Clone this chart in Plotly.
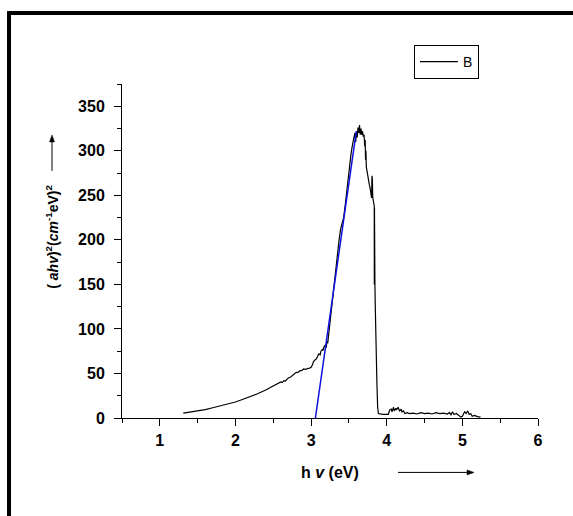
import plotly.graph_objects as go

# Measured absorption curve, (alpha*h*nu)^2 against photon energy
energy_ev = [
    1.31, 1.40, 1.50, 1.60, 1.70, 1.80, 1.90, 2.00, 2.10, 2.20, 2.30, 2.40,
    2.50, 2.55, 2.60, 2.62, 2.64, 2.66, 2.70, 2.73, 2.75, 2.78, 2.80, 2.83,
    2.85, 2.88, 2.90, 2.93, 2.95, 2.98, 3.00, 3.02, 3.03, 3.05, 3.07, 3.09,
    3.10, 3.12, 3.13, 3.15, 3.16, 3.17, 3.19, 3.20, 3.21, 3.22, 3.23, 3.25,
    3.27, 3.29, 3.31, 3.33, 3.35, 3.37, 3.39, 3.41, 3.43, 3.45, 3.47, 3.49,
    3.51, 3.53, 3.55, 3.57, 3.58, 3.59, 3.60, 3.61, 3.62, 3.63, 3.64, 3.65,
    3.66, 3.67, 3.68, 3.69, 3.70, 3.71, 3.715, 3.72, 3.725, 3.73, 3.74, 3.75,
    3.76, 3.77, 3.78, 3.79, 3.80, 3.805, 3.81, 3.815, 3.82, 3.83, 3.835,
    3.836, 3.838, 3.84, 3.842, 3.844, 3.85, 3.86, 3.87, 3.88, 3.89, 3.95,
    4.00, 4.02, 4.04, 4.06, 4.07, 4.09, 4.10, 4.12, 4.13, 4.15, 4.17, 4.19,
    4.20, 4.22, 4.24, 4.27, 4.30, 4.35, 4.40, 4.45, 4.50, 4.55, 4.60, 4.65,
    4.70, 4.75, 4.80, 4.83, 4.85, 4.87, 4.89, 4.92, 4.95, 4.98, 5.00, 5.03,
    5.05, 5.07, 5.09, 5.11, 5.13, 5.16, 5.20, 5.24,
]
ahv_sq = [
    5.5, 6.5, 8.0, 9.5, 11.5, 13.5, 15.5, 18.0, 21.0, 24.0, 27.5, 31.5,
    36.0, 38.0, 40.5, 40.0, 42.0, 41.5, 45.0, 46.0, 47.5, 49.0, 51.0, 51.5,
    53.0, 53.5, 55.0, 54.5, 55.5, 56.0, 57.0, 60.0, 63.0, 65.0, 66.5, 70.0,
    72.0, 71.0, 75.0, 77.0, 76.0, 80.0, 82.0, 79.0, 86.0, 84.0, 92.0, 105.0,
    122.0, 140.0, 158.0, 172.0, 190.0, 200.0, 212.0, 218.0, 225.0, 238.0, 254.0, 268.0,
    282.0, 298.0, 308.0, 316.0, 320.0, 310.0, 322.0, 315.0, 326.0, 320.0, 329.0, 318.0,
    325.0, 318.0, 322.0, 316.0, 318.0, 305.0, 312.0, 290.0, 300.0, 282.0, 276.0, 272.0,
    268.0, 262.0, 258.0, 250.0, 247.0, 272.0, 268.0, 248.0, 244.0, 242.0, 238.0,
    150.0, 236.0, 152.0, 230.0, 148.0, 120.0, 65.0, 40.0, 12.0, 5.0, 4.0,
    4.5, 4.0, 9.0, 10.0, 7.0, 12.0, 8.0, 11.0, 9.0, 12.0, 8.0, 10.0,
    7.0, 8.0, 5.0, 6.0, 5.0, 5.5, 4.5, 6.0, 5.0, 5.5, 4.5, 6.0,
    5.0, 5.5, 4.5, 6.0, 3.5, 7.0, 4.0, 5.0, 3.0, 1.0, 2.0, 7.0,
    5.0, 8.0, 4.0, 5.0, 2.0, 3.0, 1.5, 1.0,
]

# Linear fit of the absorption edge (intercept gives the band gap)
fit_x = [3.057, 3.598]
fit_y = [0.0, 322.0]

x_ticks = [1, 2, 3, 4, 5, 6]
y_ticks = [0, 50, 100, 150, 200, 250, 300, 350]

W, H = 573, 516
L, R, T, B = 122, 35, 84, 97.5
pw, ph = W - L - R, H - T - B


def px(x):
    return (x - L) / pw


def py(y):
    return (H - B - y) / ph


font_family = "Liberation Sans, Arial, sans-serif"

fig = go.Figure()
fig.add_trace(go.Scatter(
    x=energy_ev, y=ahv_sq, mode="lines", name="B",
    line=dict(color="black", width=1.2),
))
fig.add_trace(go.Scatter(
    x=fit_x, y=fit_y, mode="lines", showlegend=False,
    line=dict(color="#1010e0", width=1.5),
))

axis_common = dict(
    showline=True, linecolor="black", linewidth=1,
    ticks="outside", ticklen=7, tickwidth=1, tickcolor="black",
    showgrid=False, zeroline=False,
    tickfont=dict(family=font_family, size=16, color="black", weight="bold"),
)

fig.update_xaxes(
    range=[0.5, 6], tickvals=x_ticks,
    minor=dict(dtick=0.5, tick0=0.5, ticklen=4, ticks="outside", tickcolor="black"),
    ticklabelstandoff=1,
    **axis_common,
)
fig.update_yaxes(
    range=[0, 375], tickvals=y_ticks,
    minor=dict(dtick=25, tick0=0, ticklen=4, ticks="outside", tickcolor="black"),
    ticklabelstandoff=6,
    **axis_common,
)

annotations = [
    dict(
        x=px(330), y=py(473), xref="paper", yref="paper",
        text="h<i> v</i> (eV)", showarrow=False,
        font=dict(family=font_family, size=16, color="black", weight="bold"),
        xanchor="center", yanchor="middle",
    ),
    dict(
        x=px(52), y=py(237), xref="paper", yref="paper", textangle=-90,
        text="( <i>ahv</i>)<sup>2</sup>(<i>cm</i><sup>-1</sup>eV)<sup>2</sup>",
        showarrow=False, font=dict(family=font_family, size=14, color="black", weight="bold"),
        xanchor="center", yanchor="middle",
    ),
]


def arrow_shapes(x0, y0, x1, y1, head=7, half=2.5):
    # shaft plus a filled triangular head, given in pixel positions
    dx, dy = x1 - x0, y1 - y0
    n = (dx * dx + dy * dy) ** 0.5
    ux, uy = dx / n, dy / n
    bx, by = x1 - ux * head, y1 - uy * head
    nx, ny = -uy * half, ux * half
    shaft = dict(type="line", xref="paper", yref="paper",
                 x0=px(x0), y0=py(y0), x1=px(bx), y1=py(by),
                 line=dict(color="black", width=1))
    tip = dict(type="path", xref="paper", yref="paper",
               path=(f"M{px(x1)},{py(y1)} L{px(bx + nx)},{py(by + ny)} "
                     f"L{px(bx - nx)},{py(by - ny)} Z"),
               fillcolor="black", line=dict(color="black", width=0.5))
    return [shaft, tip]


shapes = [
    # outer frame around the figure
    dict(
        type="rect", xref="paper", yref="paper",
        x0=px(9), y0=py(13), x1=px(620), y1=py(560),
        line=dict(color="black", width=4), fillcolor="rgba(0,0,0,0)",
    ),
]
shapes += arrow_shapes(398, 473, 474, 473)
shapes += arrow_shapes(52, 171, 52, 135)

fig.update_layout(
    width=W, height=H, autosize=False,
    margin=dict(l=L, r=R, t=T, b=B),
    paper_bgcolor="white", plot_bgcolor="white",
    showlegend=True,
    legend=dict(
        x=px(414), y=py(45), xanchor="left", yanchor="top",
        bordercolor="black", borderwidth=1, bgcolor="white",
        font=dict(family=font_family, size=14, color="black"),
        itemwidth=38,
    ),
    annotations=annotations,
    shapes=shapes,
)

fig.write_html("out.html")
